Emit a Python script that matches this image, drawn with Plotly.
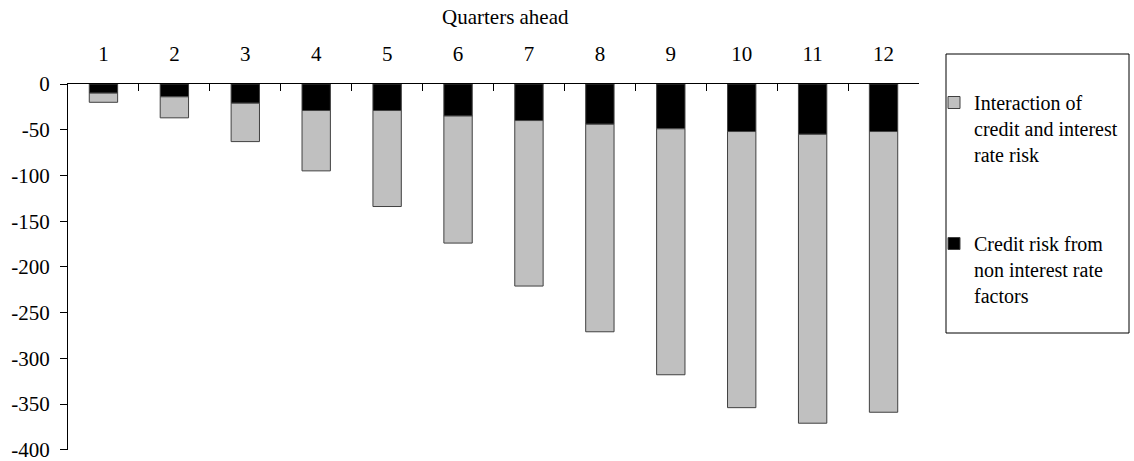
import plotly.graph_objects as go

quarters = ["1", "2", "3", "4", "5", "6", "7", "8", "9", "10", "11", "12"]
credit_non_ir = [-10, -14, -21, -29, -29, -35, -40, -44, -49, -52, -55, -52]
interaction = [-10, -23, -42, -66, -105, -139, -181, -227, -269, -302, -316, -307]
y_ticks = [0, -50, -100, -150, -200, -250, -300, -350, -400]
y_tick_labels = [str(v) for v in y_ticks]

W, H = 1134, 461
L, R, T, B = 68, 215, 84, 11
PW, PH = W - L - R, H - T - B

def px(x):
    return (x - L) / PW

def py(y):
    return (H - B - y) / PH

FONT = "Liberation Serif, Times New Roman, serif"

fig = go.Figure()
fig.add_trace(go.Bar(
    x=quarters, y=credit_non_ir, name="Credit risk from<br>non interest rate<br>factors",
    marker=dict(color="#000000", line=dict(color="#404040", width=1)),
    legend="legend2", showlegend=True,
))
fig.add_trace(go.Bar(
    x=quarters, y=interaction, name="Interaction of<br>credit and interest<br>rate risk",
    marker=dict(color="#c0c0c0", line=dict(color="#404040", width=1)),
    legend="legend", showlegend=True,
))

fig.update_layout(
    width=W, height=H,
    margin=dict(l=L, r=R, t=T, b=B, autoexpand=False),
    barmode="relative", bargap=0.6,
    showlegend=True,
    plot_bgcolor="white", paper_bgcolor="white",
    font=dict(family=FONT, size=21, color="black"),
    xaxis=dict(side="top", type="category", showline=True, linecolor="black", linewidth=1,
               ticks="inside", tickson="boundaries", ticklen=7, tickcolor="black",
               ticklabelstandoff=14, showgrid=False, zeroline=False),
    yaxis=dict(range=[-400.3, 0], tickvals=y_ticks, ticktext=y_tick_labels, showline=True,
               linecolor="black", linewidth=1, ticklabeloverflow="allow",
               ticks="outside", ticklen=7, tickcolor="black", ticklabelstandoff=6,
               showgrid=False, zeroline=False),
    legend=dict(x=px(934), xanchor="left", y=py(83), yanchor="top", valign="top",
                bgcolor="rgba(0,0,0,0)", font=dict(family=FONT, size=20)),
    legend2=dict(x=px(934), xanchor="left", y=py(224), yanchor="top", valign="top",
                 bgcolor="rgba(0,0,0,0)", font=dict(family=FONT, size=20)),
    shapes=[dict(type="rect", xref="paper", yref="paper", x0=px(946), x1=px(1129),
                 y0=py(333), y1=py(54), line=dict(color="black", width=1))],
    annotations=[dict(text="Quarters ahead", xref="paper", yref="paper", x=px(505), y=py(17),
                      xanchor="center", yanchor="middle", showarrow=False,
                      font=dict(family=FONT, size=21))],
)

fig.write_html("out.html", config={"displayModeBar": False},
               post_script="document.body.style.margin='0';")
